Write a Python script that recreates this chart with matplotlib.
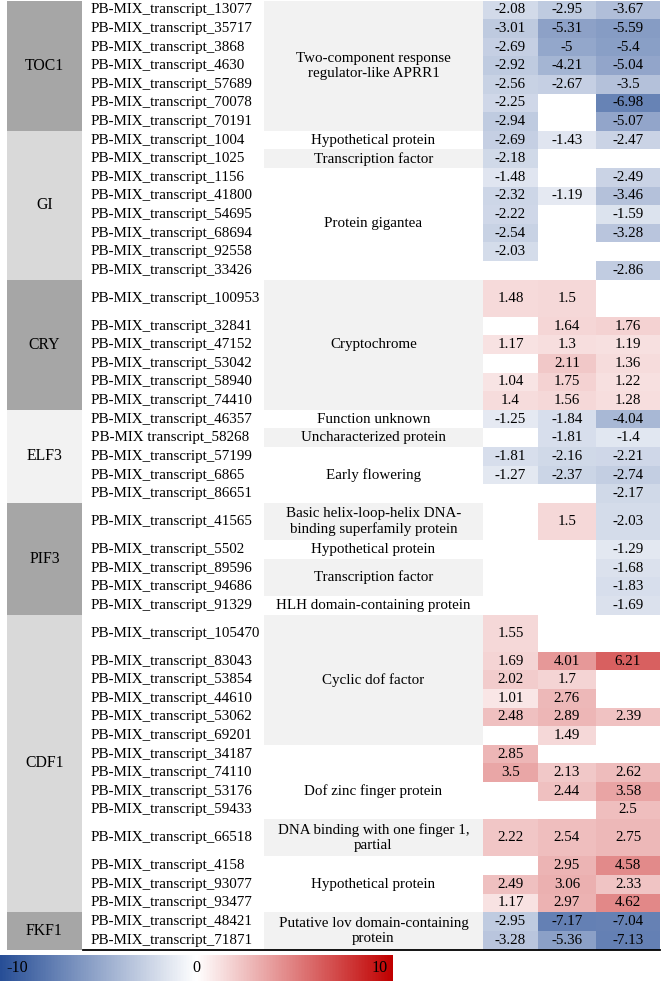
import numpy as np
import matplotlib
matplotlib.use("Agg")
import matplotlib.pyplot as plt
from matplotlib.colors import LinearSegmentedColormap, Normalize
from matplotlib.patches import Rectangle

plt.rcParams['font.family'] = ['Liberation Serif', 'DejaVu Serif']

# ---------------- data ----------------
groups = ["TOC1", "GI", "CRY", "ELF3", "PIF3", "CDF1", "FKF1"]
group_sizes = [7, 8, 6, 5, 5, 14, 2]  # number of transcripts per group
group_colors = ["#A6A6A6", "#D9D9D9", "#A6A6A6", "#F2F2F2", "#A6A6A6", "#D9D9D9", "#A6A6A6"]

transcripts = [
    "PB-MIX_transcript_13077", "PB-MIX_transcript_35717", "PB-MIX_transcript_3868",
    "PB-MIX_transcript_4630", "PB-MIX_transcript_57689", "PB-MIX_transcript_70078",
    "PB-MIX_transcript_70191",
    "PB-MIX_transcript_1004", "PB-MIX_transcript_1025", "PB-MIX_transcript_1156",
    "PB-MIX_transcript_41800", "PB-MIX_transcript_54695", "PB-MIX_transcript_68694",
    "PB-MIX_transcript_92558", "PB-MIX_transcript_33426",
    "PB-MIX_transcript_100953", "PB-MIX_transcript_32841", "PB-MIX_transcript_47152",
    "PB-MIX_transcript_53042", "PB-MIX_transcript_58940", "PB-MIX_transcript_74410",
    "PB-MIX_transcript_46357", "PB-MIX transcript_58268", "PB-MIX_transcript_57199",
    "PB-MIX_transcript_6865", "PB-MIX_transcript_86651",
    "PB-MIX_transcript_41565", "PB-MIX_transcript_5502", "PB-MIX_transcript_89596",
    "PB-MIX_transcript_94686", "PB-MIX_transcript_91329",
    "PB-MIX_transcript_105470", "PB-MIX_transcript_83043", "PB-MIX_transcript_53854",
    "PB-MIX_transcript_44610", "PB-MIX_transcript_53062", "PB-MIX_transcript_69201",
    "PB-MIX_transcript_34187", "PB-MIX_transcript_74110", "PB-MIX_transcript_53176",
    "PB-MIX_transcript_59433", "PB-MIX_transcript_66518", "PB-MIX_transcript_4158",
    "PB-MIX_transcript_93077", "PB-MIX_transcript_93477",
    "PB-MIX_transcript_48421", "PB-MIX_transcript_71871",
]
# rows that take two lines in the table
double_rows = ["PB-MIX_transcript_100953", "PB-MIX_transcript_41565",
               "PB-MIX_transcript_105470", "PB-MIX_transcript_66518"]

N = np.nan
col1 = [-2.08, -3.01, -2.69, -2.92, -2.56, -2.25, -2.94,
        -2.69, -2.18, -1.48, -2.32, -2.22, -2.54, -2.03, N,
        1.48, N, 1.17, N, 1.04, 1.4,
        -1.25, N, -1.81, -1.27, N,
        N, N, N, N, N,
        1.55, 1.69, 2.02, 1.01, 2.48, N, 2.85, 3.5, N, N, 2.22, N, 2.49, 1.17,
        -2.95, -3.28]
col2 = [-2.95, -5.31, -5, -4.21, -2.67, N, N,
        -1.43, N, N, -1.19, N, N, N, N,
        1.5, 1.64, 1.3, 2.11, 1.75, 1.56,
        -1.84, -1.81, -2.16, -2.37, N,
        1.5, N, N, N, N,
        N, 4.01, 1.7, 2.76, 2.89, 1.49, N, 2.13, 2.44, N, 2.54, 2.95, 3.06, 2.97,
        -7.17, -5.36]
col3 = [-3.67, -5.59, -5.4, -5.04, -3.5, -6.98, -5.07,
        -2.47, N, -2.49, -3.46, -1.59, -3.28, N, -2.86,
        N, 1.76, 1.19, 1.36, 1.22, 1.28,
        -4.04, -1.4, -2.21, -2.74, -2.17,
        -2.03, -1.29, -1.68, -1.83, -1.69,
        N, 6.21, N, N, 2.39, N, N, 2.62, 3.58, 2.5, 2.75, 4.58, 2.33, 4.62,
        -7.04, -7.13]

# descriptions: (text, first transcript, last transcript, shaded)
descriptions = [
    ("Two-component response\nregulator-like APRR1", 0, 6, True),
    ("Hypothetical protein", 7, 7, False),
    ("Transcription factor", 8, 8, True),
    ("Protein gigantea", 9, 14, False),
    ("Cryptochrome", 15, 20, True),
    ("Function unknown", 21, 21, False),
    ("Uncharacterized protein", 22, 22, True),
    ("Early flowering", 23, 25, False),
    ("Basic helix-loop-helix DNA-\nbinding superfamily protein", 26, 26, True),
    ("Hypothetical protein", 27, 27, False),
    ("Transcription factor", 28, 29, True),
    ("HLH domain-containing protein", 30, 30, False),
    ("Cyclic dof factor", 31, 36, True),
    ("Dof zinc finger protein", 38, 40, False),
    ("DNA binding with one finger 1,\npartial", 41, 41, True),
    ("Hypothetical protein", 42, 44, False),
    ("Putative lov domain-containing\nprotein", 45, 46, True),
]

vmin, vmax = -10, 10
cbar_ticks = [-10, 0, 10]

# ---------------- layout ----------------
W, H = 661, 982
fig = plt.figure(figsize=(W / 100, H / 100), dpi=100)
ax = fig.add_axes([0, 0, 1, 1])
ax.set_xlim(0, W)
ax.set_ylim(H, 0)
ax.axis("off")

FS = 10.8
unit = 949 / 51.0
heights = np.array([2 if t in double_rows else 1 for t in transcripts]) * unit
y_edges = np.concatenate([[0.5], 0.5 + np.cumsum(heights)])
y_mid = (y_edges[:-1] + y_edges[1:]) / 2

gx0, gx1 = 7, 82
name_x = 91
dx0, dx1 = 264, 483
x_edges = np.array([483, 538, 596, 660])

# group column
start = 0
for g, n, c in zip(groups, group_sizes, group_colors):
    y0, y1 = y_edges[start], y_edges[start + n]
    ax.add_patch(Rectangle((gx0, y0), gx1 - gx0, y1 - y0, facecolor=c, edgecolor="none"))
    ax.text((gx0 + gx1) / 2, (y0 + y1) / 2, g, ha="center", va="center", fontsize=FS + 0.5)
    start += n

# transcript names
for t, ym in zip(transcripts, y_mid):
    ax.text(name_x, ym, t, ha="left", va="center", fontsize=FS)

# descriptions
for txt, a, b, shaded in descriptions:
    y0, y1 = y_edges[a], y_edges[b + 1]
    if shaded:
        ax.add_patch(Rectangle((dx0, y0), dx1 - dx0, y1 - y0, facecolor="#F2F2F2", edgecolor="none"))
    ax.text((dx0 + dx1) / 2, (y0 + y1) / 2, txt, ha="center", va="center",
            fontsize=FS, linespacing=1.2)

# heatmap
cmap = LinearSegmentedColormap.from_list(
    "bwr_excel", [(0.0, (39/255, 78/255, 150/255)), (0.5, (1, 1, 1)), (1.0, (192/255, 0, 0))])
norm = Normalize(vmin, vmax)
vals = np.array([col1, col2, col3]).T
masked = np.ma.masked_invalid(vals)
ax.pcolormesh(x_edges, y_edges, masked, cmap=cmap, norm=norm, shading="flat")
x_mid = (x_edges[:-1] + x_edges[1:]) / 2
for i in range(vals.shape[0]):
    for j in range(vals.shape[1]):
        v = vals[i, j]
        if not np.isnan(v):
            ax.text(x_mid[j], y_mid[i], f"{v:g}", ha="center", va="center", fontsize=FS)

# bottom rule
ax.plot([83, 660], [y_edges[-1], y_edges[-1]], color="black", lw=1.3)

# colorbar
cax = fig.add_axes([0, 1 - 981 / H, 393 / W, 26 / H])
sm = matplotlib.cm.ScalarMappable(norm=norm, cmap=cmap)
cb = fig.colorbar(sm, cax=cax, orientation="horizontal")
cb.outline.set_visible(False)
cax.set_xticks([])
cax.set_xlim(vmin, vmax)
cax.text(cbar_ticks[0] + 0.3, 0.5, f"{cbar_ticks[0]}", transform=cax.get_xaxis_transform(),
         ha="left", va="center", fontsize=FS + 0.8, color="black")
cax.text(cbar_ticks[1], 0.5, f"{cbar_ticks[1]}", transform=cax.get_xaxis_transform(),
         ha="center", va="center", fontsize=FS + 0.8, color="black")
cax.text(cbar_ticks[2] - 0.25, 0.5, f"{cbar_ticks[2]}", transform=cax.get_xaxis_transform(),
         ha="right", va="center", fontsize=FS + 0.8, color="black")

fig.savefig("out.png", dpi=100)
